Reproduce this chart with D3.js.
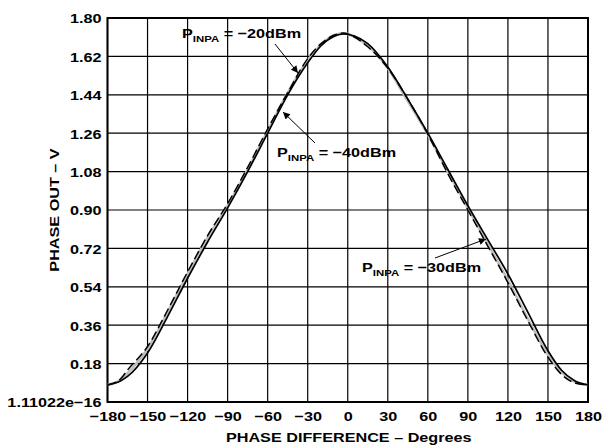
<!DOCTYPE html>
<html>
<head>
<meta charset="utf-8">
<script src="https://cdn.jsdelivr.net/npm/d3@7"></script>
<style>
  html, body { margin: 0; padding: 0; background: #fff; }
  text { font-family: "Liberation Sans", Arial, Helvetica, sans-serif; font-weight: bold; fill: #000; }
</style>
</head>
<body>
<svg id="chart" width="603" height="445"></svg>
<script>
// ---- data ----
const phaseDeg = [-180,-170,-165,-150,-135,-120,-105,-90,-75,-60,-45,-30,-20,-10,-3,5,15,30,45,60,75,90,105,120,135,150,160,170,180];
const out20 = [0.08,0.10,0.12,0.23,0.40,0.58,0.75,0.91,1.08,1.26,1.44,1.59,1.67,1.715,1.725,1.715,1.68,1.57,1.42,1.26,1.09,0.92,0.76,0.60,0.42,0.24,0.15,0.10,0.08];
const out30 = [0.08,0.105,0.135,0.25,0.42,0.60,0.77,0.92,1.09,1.27,1.45,1.60,1.675,1.72,1.728,1.712,1.67,1.565,1.41,1.255,1.08,0.91,0.74,0.57,0.39,0.22,0.14,0.095,0.08];
const out40 = [0.08,0.11,0.15,0.26,0.43,0.61,0.78,0.93,1.10,1.28,1.45,1.61,1.68,1.72,1.73,1.71,1.665,1.565,1.42,1.255,1.07,0.90,0.73,0.56,0.38,0.21,0.13,0.09,0.08];
const xTicks = [-180,-150,-120,-90,-60,-30,0,30,60,90,120,150,180];
const yTicks = [0,0.18,0.36,0.54,0.72,0.90,1.08,1.26,1.44,1.62,1.80];
const yTickLabels = ["1.11022e\u221216","0.18","0.36","0.54","0.72","0.90","1.08","1.26","1.44","1.62","1.80"];
const xTitle = "PHASE DIFFERENCE \u2013 Degrees";
const yTitle = "PHASE OUT \u2013 V";

// ---- layout ----
const W = 603, H = 445;
const m = {left: 107.5, right: 15, top: 18, bottom: 43};
const SX = 1.2; // horizontal stretch of lettering
const FS = "13.5px";
const svg = d3.select("#chart");

const x = d3.scaleLinear().domain([-180,180]).range([m.left, W - m.right]);
const y = d3.scaleLinear().domain([0,1.8]).range([H - m.bottom, m.top]);

// grid
const g = svg.append("g");
g.selectAll("line.vx").data(xTicks).join("line")
  .attr("x1", d => x(d)).attr("x2", d => x(d))
  .attr("y1", y(0)).attr("y2", y(1.8))
  .attr("stroke", "#000").attr("stroke-width", 1.2);
g.selectAll("line.hy").data(yTicks).join("line")
  .attr("y1", d => y(d)).attr("y2", d => y(d))
  .attr("x1", x(-180)).attr("x2", x(180))
  .attr("stroke", "#000").attr("stroke-width", 1.2);
svg.append("rect")
  .attr("x", x(-180)).attr("y", y(1.8))
  .attr("width", x(180) - x(-180)).attr("height", y(0) - y(1.8))
  .attr("fill", "none").attr("stroke", "#000").attr("stroke-width", 2);

// axes
const xAxis = svg.append("g").attr("transform", `translate(0,${y(0)})`)
  .call(d3.axisBottom(x).tickValues(xTicks).tickSize(0).tickPadding(0)
    .tickFormat(d => d < 0 ? "\u2212" + Math.abs(d) : String(d)));
xAxis.select(".domain").remove();
xAxis.selectAll("text")
  .attr("y", null).attr("dy", null)
  .attr("transform", `translate(0,19) scale(${SX},1)`)
  .style("font-size", FS).style("font-family", null);

const yAxis = svg.append("g").attr("transform", `translate(${x(-180)},0)`)
  .call(d3.axisLeft(y).tickValues(yTicks).tickSize(0).tickPadding(0)
    .tickFormat((d, i) => yTickLabels[i]));
yAxis.select(".domain").remove();
yAxis.selectAll("text")
  .attr("x", null).attr("dy", "0.36em")
  .attr("transform", `translate(-6,0) scale(${SX},1)`)
  .style("font-size", FS).style("font-family", null);

// titles
svg.append("text")
  .attr("transform", `translate(${(x(-180)+x(180))/2 + 1},${H - 3}) scale(${SX},1)`)
  .attr("text-anchor", "middle").style("font-size", FS).text(xTitle);
svg.append("text")
  .attr("transform", `translate(59,${(y(0)+y(1.8))/2}) rotate(-90) scale(${SX},1)`)
  .attr("text-anchor", "middle").style("font-size", FS).text(yTitle);

// curves
const line = d3.line().x(d => x(d[0])).y(d => y(d[1])).curve(d3.curveMonotoneX);
const mk = arr => phaseDeg.map((p, i) => [p, arr[i]]);
svg.append("path").datum(mk(out30)).attr("d", line)
  .attr("fill", "none").attr("stroke", "#bdbdbd").attr("stroke-width", 2.6);
svg.append("path").datum(mk(out40)).attr("d", line)
  .attr("fill", "none").attr("stroke", "#000").attr("stroke-width", 1.5)
  .attr("stroke-dasharray", "9,4");
svg.append("path").datum(mk(out20)).attr("d", line)
  .attr("fill", "none").attr("stroke", "#000").attr("stroke-width", 1.7);

// annotations
const defs = svg.append("defs");
defs.append("marker").attr("id", "arr").attr("viewBox", "0 0 10 10")
  .attr("refX", 10).attr("refY", 5).attr("markerWidth", 10).attr("markerHeight", 7)
  .attr("markerUnits", "userSpaceOnUse").attr("orient", "auto")
  .append("path").attr("d", "M0,0 L10,5 L0,10 Z").attr("fill", "#000");

function label(px, py, value) {
  const t = svg.append("text")
    .attr("transform", `translate(${px},${py}) scale(${SX},1)`)
    .style("font-size", FS);
  t.append("tspan").text("P");
  t.append("tspan").attr("dy", 3.5).style("font-size", "9.5px").text("INPA");
  t.append("tspan").attr("dy", -3.5).text(" = " + value);
}
function arrow(x1, y1, x2, y2) {
  svg.append("line").attr("x1", x1).attr("y1", y1).attr("x2", x2).attr("y2", y2)
    .attr("stroke", "#000").attr("stroke-width", 1).attr("marker-end", "url(#arr)");
}
label(182, 38, "\u221220dBm");
arrow(275, 44, 298, 73);
label(277, 157, "\u221240dBm");
arrow(315, 143, 283, 112);
label(362, 272, "\u221230dBm");
arrow(435, 258, 486, 239);
</script>
</body>
</html>
